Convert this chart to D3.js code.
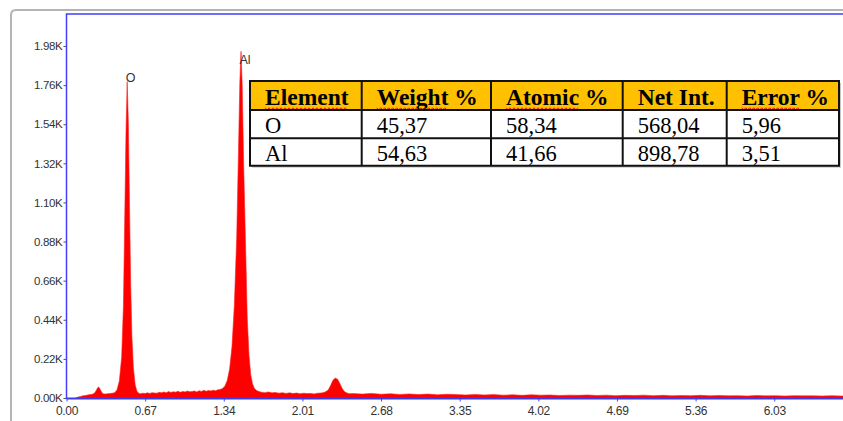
<!DOCTYPE html>
<html>
<head>
<meta charset="utf-8">
<script src="https://cdn.jsdelivr.net/npm/d3@7"></script>
<style>
  body { margin: 0; background: #fff; }
  svg { display: block; }
</style>
</head>
<body>
<div id="chart"></div>
<script>
// EDS spectrum, energy in keV and counts
var energyKeV = [
  0.08, 0.10, 0.12, 0.14, 0.16, 0.18, 0.20, 0.22, 0.24, 0.255, 0.27, 0.28, 0.295, 0.31, 0.33, 0.35, 0.37, 0.39, 0.41,
  0.43, 0.45, 0.47, 0.485, 0.497, 0.507, 0.517, 0.527, 0.537, 0.547, 0.557, 0.57, 0.585, 0.60, 0.615,
  0.63, 0.65, 0.67, 0.69, 0.71, 0.73, 0.75, 0.77, 0.79, 0.81, 0.83, 0.85, 0.87, 0.89, 0.91, 0.93, 0.95, 0.97, 0.99,
  1.01, 1.03, 1.05, 1.07, 1.09, 1.11, 1.13, 1.15, 1.17, 1.19, 1.21, 1.23, 1.25, 1.27, 1.29,
  1.31, 1.33, 1.35, 1.37, 1.39, 1.41, 1.43, 1.45, 1.465, 1.477, 1.487, 1.497, 1.51, 1.525, 1.54, 1.555, 1.57, 1.585, 1.60, 1.62, 1.64,
  1.66, 1.69, 1.72, 1.75, 1.78, 1.81, 1.84, 1.87, 1.90, 1.93, 1.96, 1.99, 2.02, 2.05, 2.08, 2.11, 2.14, 2.17, 2.20,
  2.23, 2.25, 2.27, 2.29, 2.31, 2.33, 2.35, 2.37, 2.39, 2.41,
  2.44, 2.52, 2.60, 2.68, 2.76, 2.84, 2.92, 3.00, 3.08, 3.16, 3.24, 3.32, 3.40, 3.48, 3.56, 3.64, 3.72, 3.80, 3.88, 3.96,
  4.04, 4.12, 4.20, 4.28, 4.36, 4.44, 4.52, 4.60, 4.68, 4.76, 4.84, 4.92, 5.00, 5.08, 5.16, 5.24, 5.32, 5.40, 5.48, 5.56,
  5.64, 5.72, 5.80, 5.88, 5.96, 6.04, 6.12, 6.20, 6.28, 6.36, 6.44, 6.52, 6.60, 6.68
];
var counts = [
  0, 5, 9, 12, 14, 17, 19, 21, 28, 45, 62, 58, 38, 24, 22, 24, 25, 27, 30,
  45, 95, 230, 520, 1050, 1500, 1780, 1550, 1080, 640, 350, 170, 75, 38, 27,
  24, 27, 25, 29, 26, 30, 28, 27, 32, 29, 34, 30, 36, 31, 35, 33, 38, 32, 37,
  34, 39, 35, 36, 40, 34, 41, 37, 43, 38, 42, 40, 44, 41, 46,
  48, 54, 68, 100, 165, 290, 520, 900, 1380, 1780, 1950, 1760, 1300, 880, 450, 240, 130, 80, 55, 42, 36,
  33, 30, 34, 29, 31, 27, 30, 26, 29, 25, 28, 24, 27, 25, 26, 23, 27, 28, 32,
  45, 70, 100, 112, 105, 80, 52, 35, 28, 24,
  25, 22, 26, 21, 24, 20, 23, 19, 22, 18, 21, 19, 17, 20, 17, 19, 16, 18, 15, 18,
  16, 17, 14, 16, 15, 17, 14, 16, 13, 15, 14, 16, 13, 15, 12, 14, 13, 15, 12, 14,
  12, 13, 11, 14, 12, 13, 11, 13, 12, 12, 11, 13, 11, 12
];

var xTicks = [0.00, 0.67, 1.34, 2.01, 2.68, 3.35, 4.02, 4.69, 5.36, 6.03];
var yTicks = [0, 220, 440, 660, 880, 1100, 1320, 1540, 1760, 1980];

var peakNames = ["O", "Al"];
var peakEnergy = [0.517, 1.487];
var peakLabelLevel = [1780, 1880];

var tableHeader = ["Element", "Weight %", "Atomic %", "Net Int.", "Error %"];
var tableSpell = [true, true, true, false, true];
var tableRows = [
  ["O", "45,37", "58,34", "568,04", "5,96"],
  ["Al", "54,63", "41,66", "898,78", "3,51"]
];

var W = 843, H = 421;
var plotLeft = 66.5, plotTop = 14, plotBottom = 398.5;

var svg = d3.select("#chart").append("svg")
    .attr("width", W)
    .attr("height", H);

var x = d3.scaleLinear().domain([0, 6.7]).range([plotLeft, plotLeft + 6.7 * 117.37]);
var y = d3.scaleLinear().domain([0, 2160]).range([398, plotTop]);

// grey outer frame
svg.append("path")
    .attr("d", "M11," + H + " L11,15 Q11,10 16,10 L" + W + ",10")
    .attr("fill", "none")
    .attr("stroke", "#b4b4b4")
    .attr("stroke-width", 2);

var spectrum = energyKeV.map(function(e, i) { return {e: e, c: counts[i]}; });

var area = d3.area()
    .x(function(d) { return x(d.e); })
    .y0(y(0))
    .y1(function(d) { return y(d.c); });

svg.append("path")
    .datum(spectrum)
    .attr("d", area)
    .attr("fill", "#ff0000")
    .attr("stroke", "#ff2020")
    .attr("stroke-width", 0.6);

// peak labels
svg.selectAll(".peak")
    .data(peakNames)
    .enter()
    .append("text")
    .attr("x", function(d, i) { return x(peakEnergy[i]) - 1.5; })
    .attr("y", function(d, i) { return y(peakLabelLevel[i]); })
    .style("font-family", "Liberation Sans, Arial, sans-serif")
    .style("font-size", "12.5px")
    .style("fill", "#333")
    .text(function(d) { return d; });

// axes
var yAxis = svg.append("g")
    .attr("transform", "translate(" + plotLeft + ",0)")
    .call(d3.axisLeft(y).tickValues(yTicks).tickSize(3).tickPadding(1)
        .tickFormat(function(d) { return (d / 1000).toFixed(2) + "K"; }));
yAxis.select(".domain").remove();
yAxis.selectAll("line").attr("stroke", "#555");
yAxis.selectAll("text")
    .style("font-family", "Liberation Sans, Arial, sans-serif")
    .style("font-size", "11.5px")
    .style("letter-spacing", "-0.3px")
    .style("fill", "#333");

var xAxis = svg.append("g")
    .attr("transform", "translate(0," + plotBottom + ")")
    .call(d3.axisBottom(x).tickValues(xTicks).tickSize(3).tickPadding(5)
        .tickFormat(d3.format(".2f")));
xAxis.select(".domain").remove();
xAxis.selectAll("line").attr("stroke", "#4a4af0");
xAxis.selectAll("text")
    .style("font-family", "Liberation Sans, Arial, sans-serif")
    .style("font-size", "12px")
    .style("letter-spacing", "-0.3px")
    .style("fill", "#333");

// blue plot frame
svg.append("path")
    .attr("d", "M" + W + "," + plotTop + " L" + plotLeft + "," + plotTop + " L" + plotLeft + "," + plotBottom)
    .attr("fill", "none")
    .attr("stroke", "#4040f8")
    .attr("stroke-width", 1.5);
svg.append("line")
    .attr("x1", plotLeft).attr("x2", W)
    .attr("y1", plotBottom).attr("y2", plotBottom)
    .attr("stroke", "#3b3bf0")
    .attr("stroke-width", 2.2);

// results table
var colX = [250, 361.7, 491, 622.7, 726.7, 839];
var rowY = [81, 110, 138.3, 165.7];
var tbl = svg.append("g");

tbl.append("rect")
    .attr("x", colX[0] + 2).attr("y", rowY[0] + 2)
    .attr("width", colX[5] - colX[0]).attr("height", rowY[3] - rowY[0])
    .attr("fill", "#c8c8c8");
tbl.append("rect")
    .attr("x", colX[0]).attr("y", rowY[0])
    .attr("width", colX[5] - colX[0]).attr("height", rowY[3] - rowY[0])
    .attr("fill", "#fff");
tbl.append("rect")
    .attr("x", colX[0]).attr("y", rowY[0])
    .attr("width", colX[5] - colX[0]).attr("height", rowY[1] - rowY[0])
    .attr("fill", "#ffc000");

var headText = tbl.selectAll(".head")
    .data(tableHeader)
    .enter()
    .append("text")
    .attr("x", function(d, i) { return colX[i] + 15; })
    .attr("y", 105)
    .style("font-family", "Liberation Serif, Times New Roman, serif")
    .style("font-weight", "bold")
    .style("font-size", "23.5px")
    .style("fill", "#000")
    .text(function(d) { return d; });

// red spell-check squiggles under the header words
headText.each(function(d, i) {
    if (!tableSpell[i]) return;
    var word = d.split(" ")[0];
    var probe = tbl.append("text")
        .style("font-family", "Liberation Serif, Times New Roman, serif")
        .style("font-weight", "bold")
        .style("font-size", "23.5px")
        .text(word);
    var w = probe.node().getComputedTextLength();
    probe.remove();
    var x0 = colX[i] + 15, yy = 108.5, pts = [];
    for (var k = 0; k * 2 <= w; k++) {
        pts.push([x0 + k * 2, yy + (k % 2 ? 1.3 : -0.7)]);
    }
    tbl.append("path")
        .attr("d", d3.line()(pts))
        .attr("fill", "none")
        .attr("stroke", "#e01010")
        .attr("stroke-width", 1);
});

tableRows.forEach(function(row, r) {
    tbl.selectAll(".row" + r)
        .data(row)
        .enter()
        .append("text")
        .attr("x", function(d, i) { return colX[i] + 15; })
        .attr("y", r === 0 ? 133 : 161)
        .style("font-family", "Liberation Serif, Times New Roman, serif")
        .style("font-size", "22.5px")
        .style("fill", "#000")
        .text(function(d) { return d; });
});

tbl.selectAll(".vline")
    .data(colX)
    .enter()
    .append("line")
    .attr("x1", function(d) { return d; })
    .attr("x2", function(d) { return d; })
    .attr("y1", rowY[0]).attr("y2", rowY[3])
    .attr("stroke", "#111")
    .attr("stroke-width", 2);
tbl.selectAll(".hline")
    .data(rowY)
    .enter()
    .append("line")
    .attr("x1", colX[0] - 1).attr("x2", colX[5] + 1)
    .attr("y1", function(d) { return d; })
    .attr("y2", function(d) { return d; })
    .attr("stroke", "#111")
    .attr("stroke-width", 2);
</script>
</body>
</html>
